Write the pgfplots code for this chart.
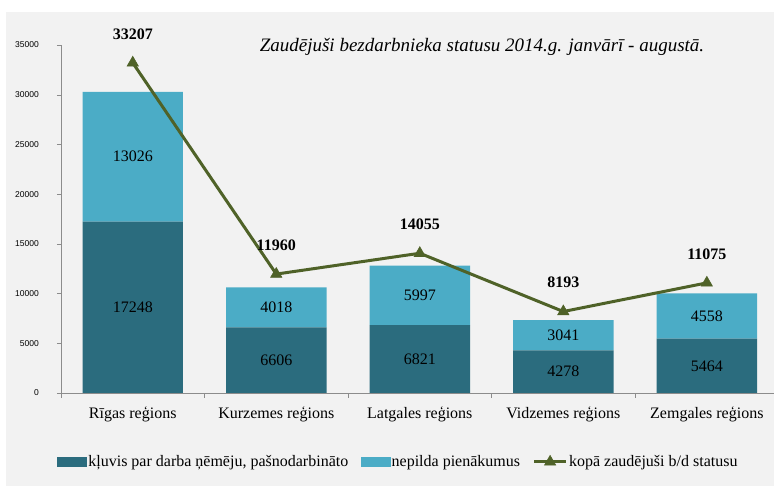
\documentclass[border=0pt]{standalone}
\usepackage{fontspec}
\setmainfont{Liberation Serif}
\newfontfamily\tickfont{Liberation Sans}
\usepackage{pgfplots}
\pgfplotsset{compat=1.18}
\definecolor{bg}{HTML}{F2F2F2}
\definecolor{darkbar}{HTML}{2B6C7E}
\definecolor{lightbar}{HTML}{4BACC6}
\definecolor{olive}{HTML}{4F6228}
\definecolor{axgray}{HTML}{8C8C8C}
\pgfplotsset{linelegend/.style={legend image code/.code={\draw[mark repeat=2,mark phase=2,##1] plot coordinates {(0pt,0pt)(16pt,0pt)(32pt,0pt)};}}}
\begin{document}
\begin{tikzpicture}
\path[use as bounding box] (-61pt,-93pt) rectangle (713pt,393pt);
\fill[bg] (-55pt,-93pt) rectangle (713pt,381pt);
\begin{axis}[
  at={(0pt,0pt)}, anchor=south west,
  scale only axis, width=713pt, height=348pt,
  xmin=-0.5, xmax=4.468, ymin=0, ymax=35000,
  ybar stacked, bar width=0.7,
  axis x line*=bottom, axis y line*=left,
  axis line style={draw=axgray,-},
  ytick={0,5000,...,35000}, scaled y ticks=false,
  /pgf/number format/1000 sep={},
  /pgf/number format/assume math mode=true,
  yticklabel style={font=\tickfont\fontsize{8.5}{10}\selectfont, xshift=-18pt, anchor=east, inner sep=0pt},
  xtick={0,1,2,3,4},
  xticklabels={Rīgas reģions,Kurzemes reģions,Latgales reģions,Vidzemes reģions,Zemgales reģions},
  xticklabel style={font=\fontsize{16}{18}\selectfont, yshift=-6pt},
  x tick style={draw=none},
  y tick style={draw=axgray},
  tick align=outside, major tick length=4pt,
  extra x ticks={-0.5,0.5,1.5,2.5,3.5},
  extra x tick labels={},
  extra x tick style={x tick style={draw=axgray}, major tick length=5pt},
]
\addplot[fill=darkbar, draw=none] coordinates {(0,17248)(1,6606)(2,6821)(3,4278)(4,5464)};
\addplot[fill=lightbar, draw=none] coordinates {(0,13026)(1,4018)(2,5997)(3,3041)(4,4558)};
\end{axis}
\begin{axis}[
  at={(0pt,0pt)}, anchor=south west,
  scale only axis, width=713pt, height=348pt,
  xmin=-0.5, xmax=4.468, ymin=0, ymax=35000,
  hide axis, clip=false,
  /pgf/number format/1000 sep={},
  /pgf/number format/assume math mode=true,
  legend columns=-1,
  legend style={at={(0.473,-0.198)}, anchor=center, draw=none, fill=none,
    font=\fontsize{16}{18}\selectfont,
    /tikz/every even column/.append style={column sep=11pt},
    nodes={inner sep=1.5pt}},
]
\addlegendimage{legend image code/.code={\fill[darkbar] (0pt,-4.5pt) rectangle (29pt,4.5pt);}}
\addlegendentry{kļuvis par darba ņēmēju, pašnodarbināto}
\addlegendimage{legend image code/.code={\fill[lightbar] (0pt,-4.5pt) rectangle (29pt,4.5pt);}}
\addlegendentry{nepilda pienākumus}
\addplot[olive, line width=3pt, mark=triangle*, mark size=6.5pt,
  mark options={solid, line width=0.6pt},
  nodes near coords,
  every node near coord/.append style={font=\bfseries\fontsize{16}{18}\selectfont, text=black, anchor=south, yshift=20pt},
  linelegend
] coordinates {(0,33207)(1,11960)(2,14055)(3,8193)(4,11075)};
\addlegendentry{kopā zaudējuši b/d statusu}
\addplot[draw=none, mark=none, nodes near coords, point meta=explicit symbolic,
  nodes near coords style={font=\fontsize{16}{18}\selectfont, text=black, anchor=center}, forget plot]
  coordinates {(0,8624)[17248] (1,3303)[6606] (2,3410.5)[6821] (3,2139)[4278] (4,2732)[5464]};
\addplot[draw=none, mark=none, nodes near coords, point meta=explicit symbolic,
  nodes near coords style={font=\fontsize{16}{18}\selectfont, text=black, anchor=center}, forget plot]
  coordinates {(0,23761)[13026] (1,8615)[4018] (2,9819.5)[5997] (3,5798.5)[3041] (4,7743)[4558]};
\end{axis}
\node[font=\itshape\fontsize{19}{21}\selectfont] at (421pt,346pt) {Zaudējuši bezdarbnieka statusu 2014.g. janvārī - augustā.};
\end{tikzpicture}
\end{document}
